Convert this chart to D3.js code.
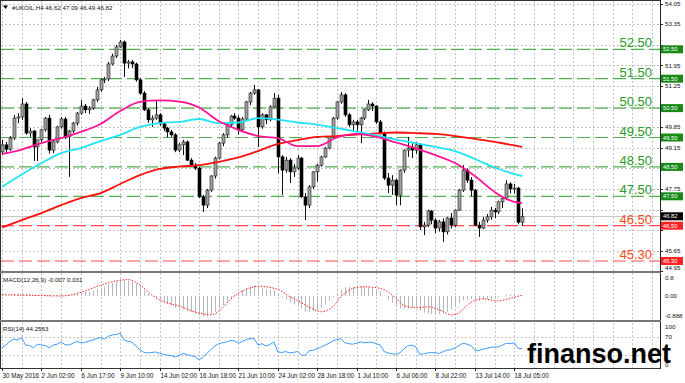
<!DOCTYPE html>
<html>
<head>
<meta charset="utf-8">
<script src="https://cdn.jsdelivr.net/npm/d3@7"></script>
<style>
  body { margin: 0; background: #fff; }
  svg { display: block; font-family: "Liberation Sans", Arial, sans-serif; }
</style>
</head>
<body>
<div id="viz"></div>
<script>
// ---- data (UKOIL H4, 30 May - 18 Jul 2016) ----
var opens = [49.01,49.25,49.10,49.48,50.16,50.20,50.64,49.65,49.72,49.18,
  49.42,49.76,50.16,49.07,49.35,49.86,50.13,49.52,49.72,49.99,
  50.33,50.57,50.44,50.50,50.78,51.12,51.46,51.49,52.00,52.27,
  52.58,52.75,52.03,52.07,52.00,51.46,51.01,50.44,50.10,50.16,
  50.27,49.96,49.82,49.69,49.59,49.07,49.25,49.35,48.73,48.56,
  48.46,47.48,47.20,47.71,48.19,48.80,49.31,49.59,49.93,50.23,
  50.16,49.76,50.13,50.71,51.01,51.12,49.86,50.27,50.10,50.54,
  50.84,48.84,48.39,48.73,48.33,48.46,48.80,47.48,47.20,47.82,
  48.33,48.56,48.84,49.14,49.52,50.16,50.71,50.95,50.27,49.93,
  50.03,49.93,50.16,50.44,50.64,50.57,50.03,49.65,48.12,47.88,
  48.05,47.54,48.39,49.07,49.14,49.07,49.25,46.46,46.52,47.00,
  46.69,46.42,46.63,46.29,46.76,46.52,47.03,47.71,48.39,48.05,
  47.71,46.52,46.42,46.69,46.80,47.03,46.97,47.31,47.44,47.92,
  47.75,47.78,46.62];
var highs = [49.42,49.35,49.55,50.27,50.33,50.84,50.71,49.82,49.76,49.42,
  49.80,50.20,50.27,49.42,49.90,50.20,50.20,49.76,50.03,50.37,
  50.78,50.64,50.57,50.82,51.22,51.50,51.56,52.07,52.35,52.65,
  52.82,52.80,52.14,52.14,52.05,51.52,51.08,50.50,50.25,50.78,
  50.33,50.03,49.86,49.76,49.65,49.31,49.42,49.40,48.80,48.63,
  48.50,47.55,47.75,48.22,48.85,49.35,49.65,50.00,50.27,50.33,
  50.25,50.20,50.75,51.05,51.29,51.15,50.33,50.30,50.60,51.01,
  50.95,48.90,48.84,48.80,48.60,48.90,48.84,47.61,47.88,48.36,
  48.60,48.88,49.18,49.55,50.20,50.75,51.05,51.01,50.33,50.10,
  50.10,50.20,50.47,50.78,50.70,50.60,50.10,49.70,48.29,48.22,
  48.10,48.42,49.10,49.52,49.30,49.35,49.30,46.63,47.05,47.03,
  46.75,46.70,46.75,46.80,46.93,47.05,47.75,48.56,48.45,48.15,
  47.75,46.63,46.80,46.90,47.14,47.10,47.35,47.50,48.05,47.98,
  47.92,47.82,47.09];
var lows = [48.90,48.97,49.05,49.42,49.99,50.10,49.59,49.52,48.70,48.70,
  49.35,49.70,48.95,48.97,49.30,49.80,49.45,48.16,49.65,49.90,
  50.27,50.33,50.30,50.44,50.70,51.05,51.35,51.42,51.95,52.20,
  52.55,51.56,51.85,51.86,51.40,50.95,50.40,50.00,49.86,50.10,
  49.90,49.72,49.50,49.52,49.00,49.00,48.90,48.70,48.50,48.39,
  47.44,46.97,47.10,47.65,48.10,48.75,49.20,49.50,49.85,50.10,
  49.60,49.70,50.08,50.60,50.95,49.18,49.80,49.96,50.05,50.50,
  48.29,47.54,48.30,47.95,48.16,48.40,47.44,46.69,47.10,47.75,
  48.00,48.50,48.80,49.10,49.48,50.10,50.65,50.20,49.86,49.72,
  49.70,49.31,50.10,50.40,50.40,49.96,49.60,48.05,47.61,47.55,
  47.20,47.20,48.30,48.84,48.80,48.95,46.35,46.18,46.45,46.55,
  46.25,46.30,45.95,46.20,46.40,46.45,47.00,47.65,47.95,47.50,
  46.50,46.12,46.38,46.60,46.70,46.76,46.90,47.10,47.40,47.60,
  47.60,46.55,46.49];
var closes = [49.25,49.10,49.48,50.16,50.20,50.64,49.65,49.72,49.18,49.42,
  49.76,50.16,49.07,49.35,49.86,50.13,49.52,49.72,49.99,50.33,
  50.57,50.44,50.50,50.78,51.12,51.46,51.49,52.00,52.27,52.58,
  52.75,52.03,52.07,52.00,51.46,51.01,50.44,50.10,50.16,50.27,
  49.96,49.82,49.69,49.59,49.07,49.25,49.35,48.73,48.56,48.46,
  47.48,47.20,47.71,48.19,48.80,49.31,49.59,49.93,50.23,50.16,
  49.76,50.13,50.71,51.01,51.12,49.86,50.27,50.10,50.54,50.84,
  48.84,48.39,48.73,48.33,48.46,48.80,47.48,47.20,47.82,48.33,
  48.56,48.84,49.14,49.52,50.16,50.71,50.95,50.27,49.93,50.03,
  49.93,50.16,50.44,50.64,50.57,50.03,49.65,48.12,47.88,48.05,
  47.54,48.39,49.07,49.14,49.07,49.25,46.46,46.52,47.00,46.69,
  46.42,46.63,46.29,46.76,46.52,47.03,47.71,48.39,48.05,47.71,
  46.52,46.42,46.69,46.80,47.03,46.97,47.31,47.44,47.92,47.75,
  47.78,46.62,46.82];

// moving averages, read at every 5th bar
var maIdx  = [0,5,10,15,20,25,30,35,40,45,50,55,60,65,70,75,80,85,90,95,100,105,110,115,120,125,130,132];
var maPink = [48.94,49.09,49.31,49.48,49.69,49.96,50.40,50.71,50.76,50.72,50.52,50.06,49.76,49.55,
  49.48,49.21,49.21,49.50,49.62,49.52,49.33,49.13,48.90,48.63,48.19,47.65,47.31,47.27];
var maCyan = [47.82,48.24,48.63,48.97,49.14,49.38,49.59,49.86,49.99,50.03,50.13,49.99,50.01,50.16,
  50.11,50.01,49.94,49.82,49.70,49.57,49.43,49.31,49.18,49.04,48.77,48.48,48.26,48.19];
var maRed  = [46.44,46.69,46.93,47.20,47.44,47.61,47.92,48.22,48.43,48.51,48.56,48.67,48.82,49.04,
  49.28,49.41,49.52,49.55,49.60,49.64,49.67,49.65,49.62,49.55,49.45,49.35,49.23,49.18];

var macdHist = [0.05,0.03,0.04,0.08,0.10,0.14,0.10,0.06,0.02,0.02,
  0.04,0.07,0.04,0.03,0.05,0.08,0.06,0.05,0.07,0.10,
  0.15,0.18,0.20,0.24,0.30,0.37,0.42,0.50,0.58,0.66,
  0.74,0.72,0.68,0.64,0.55,0.42,0.26,0.10,-0.02,-0.10,
  -0.20,-0.28,-0.36,-0.44,-0.52,-0.56,-0.60,-0.66,-0.72,-0.78,
  -0.86,-0.92,-0.90,-0.82,-0.70,-0.55,-0.40,-0.25,-0.10,0.05,
  0.12,0.25,0.35,0.42,0.47,0.42,0.36,0.30,0.28,0.27,
  0.10,-0.05,-0.15,-0.28,-0.38,-0.42,-0.55,-0.68,-0.72,-0.68,
  -0.62,-0.52,-0.38,-0.22,-0.05,0.12,0.28,0.38,0.40,0.42,
  0.44,0.42,0.40,0.38,0.35,0.28,0.20,0.02,-0.15,-0.30,
  -0.45,-0.55,-0.55,-0.55,-0.52,-0.50,-0.65,-0.75,-0.78,-0.80,
  -0.82,-0.82,-0.78,-0.70,-0.60,-0.48,-0.32,-0.20,-0.15,-0.15,
  -0.20,-0.22,-0.18,-0.15,-0.12,-0.10,-0.05,0.00,0.05,0.08,
  0.08,0.04,-0.007];
var sigIdx = [0,5,10,15,20,25,30,32,35,38,40,45,50,53,55,58,60,63,65,70,73,75,78,81,84,86,88,90,92,96,
  98,100,102,105,108,110,112,114,116,118,120,122,124,126,129,132];
var sigVal = [0.06,0.04,0.02,0.00,0.16,0.48,0.70,0.73,0.49,0.05,-0.17,-0.45,-0.76,-0.84,-0.68,-0.15,0.12,0.36,0.43,0.30,
  -0.03,-0.20,-0.50,-0.70,-0.47,-0.03,0.25,0.38,0.41,0.34,0.18,-0.10,-0.42,-0.52,-0.48,-0.55,-0.70,-0.84,-0.74,-0.42,
  -0.20,-0.12,-0.18,-0.22,-0.10,0.031];

var rsi = [47,52,60,65,63,68,52,51,46,54,
  52,51,46,52,54,59,53,52,56,60,
  57,58,60,63,66,68,65,71,74,75,
  78,63,60,58,50,42,36,35,36,37,
  34,32,30,29,26,30,34,31,29,27,
  20,25,34,42,50,55,57,59,62,61,
  56,60,64,66,66,52,55,50,53,59,
  37,36,38,35,36,38,30,30,40,41,
  44,48,52,56,61,64,66,57,55,54,
  56,59,57,58,58,55,52,38,35,33,
  32,35,44,50,52,48,32,33,35,36,
  35,34,38,41,42,46,51,56,54,51,
  41,40,43,45,47,48,48,52,56,55,
  57,45,44.26];

var priceTicks = [54.05,53.35,52.65,51.95,51.25,50.55,49.85,49.15,48.45,47.75,47.05,46.35,45.65,44.95];
var greenLevels = [52.50,51.50,50.50,49.50,48.50,47.50];
var redLevels = [46.50,45.30];
var lastPrice = 46.82;
var xLabelIdx = [0,10,20,30,40,50,60,70,80,90,100,110,120,130];
var xLabels = ["30 May 2016","2 Jun 02:00","6 Jun 17:00","9 Jun 10:00","14 Jun 02:00","16 Jun 18:00",
  "21 Jun 10:00","24 Jun 02:00","28 Jun 18:00","1 Jul 10:00","6 Jul 06:00","8 Jul 22:00",
  "13 Jul 14:00","18 Jul 05:00"];
var macdTicks = [0.8, 0, -0.888], macdTickText = ["0.8", "0.00", "-0.888"];
var rsiTicks = [100, 70, 0];
var rsiLevels = [70, 30];

// ---- layout ----
var W = 685, H = 383, axisX = 660;
var mainBottom = 271, macdTop = 273, macdBottom = 320, rsiTop = 323, rsiBottom = 368;

var svg = d3.select("#viz").append("svg")
  .attr("width", W).attr("height", H);

var x = d3.scaleLinear().domain([0, 132]).range([2, 522.1]);
var y = d3.scaleLinear().domain([52.5, 47.5]).range([49.3, 196.3]);
var yMacd = d3.scaleLinear().domain([0, 0.8]).range([296, 278]);
var yRsi = d3.scaleLinear().domain([0, 100]).range([369, 323]);

var px = i => Math.round(x(i)) + 0.5;

// grid
var grid = svg.append("g").attr("stroke", "#c4c4c4").attr("stroke-dasharray", "2,2").attr("shape-rendering", "crispEdges");
d3.range(0, 170, 5).filter(i => x(i) < axisX - 2).forEach(i => {
  [[1, mainBottom], [macdTop, macdBottom], [rsiTop, rsiBottom]].forEach(r => {
    grid.append("line").attr("x1", px(i)).attr("x2", px(i)).attr("y1", r[0]).attr("y2", r[1]);
  });
});
priceTicks.forEach(p => {
  grid.append("line").attr("x1", 1).attr("x2", axisX).attr("y1", Math.round(y(p)) + 0.5).attr("y2", Math.round(y(p)) + 0.5);
});
rsiLevels.forEach(v => {
  grid.append("line").attr("x1", 1).attr("x2", axisX).attr("y1", Math.round(yRsi(v)) + 0.5).attr("y2", Math.round(yRsi(v)) + 0.5);
});

// current price line
svg.append("line").attr("x1", 1).attr("x2", axisX)
  .attr("y1", Math.round(y(lastPrice)) + 0.5).attr("y2", Math.round(y(lastPrice)) + 0.5)
  .attr("stroke", "#c8c8c8").attr("stroke-width", 1.2);

// horizontal levels
greenLevels.forEach(p => {
  svg.append("line").attr("x1", 1).attr("x2", axisX).attr("y1", y(p)).attr("y2", y(p))
    .attr("stroke", "#55b055").attr("stroke-width", 1.2).attr("stroke-dasharray", "13,5");
});
redLevels.forEach(p => {
  svg.append("line").attr("x1", 1).attr("x2", axisX).attr("y1", y(p)).attr("y2", y(p))
    .attr("stroke", "#ff4a4a").attr("stroke-width", 1.2).attr("stroke-dasharray", "13,5");
});

// candles
var candles = svg.append("g");
closes.forEach((c, i) => {
  var o = opens[i], bull = c >= o;
  candles.append("line").attr("x1", px(i)).attr("x2", px(i))
    .attr("y1", y(highs[i])).attr("y2", y(lows[i]))
    .attr("stroke", "#111").attr("stroke-width", 1);
  var top = y(Math.max(o, c)), bot = y(Math.min(o, c));
  candles.append("rect")
    .attr("x", Math.round(x(i)) - 1).attr("width", 3)
    .attr("y", top).attr("height", Math.max(1, bot - top))
    .attr("fill", bull ? "#a0a0a0" : "#000")
    .attr("stroke", bull ? "#222" : "#000").attr("stroke-width", 0.6);
});

// moving averages
var maLine = d3.line().x(d => x(d[0])).y(d => y(d[1])).curve(d3.curveMonotoneX);
[[maRed, "#ff1010"], [maCyan, "#22e4f4"], [maPink, "#ff1493"]].forEach(m => {
  svg.append("path").datum(d3.zip(maIdx, m[0])).attr("d", maLine)
    .attr("fill", "none").attr("stroke", m[1]).attr("stroke-width", 1.8);
});

// level labels on chart
greenLevels.forEach(p => {
  svg.append("text").attr("x", 652).attr("y", y(p) - 2).attr("text-anchor", "end")
    .attr("font-size", 13).attr("fill", "#2a9a2a").text(p.toFixed(2));
});
redLevels.forEach(p => {
  svg.append("text").attr("x", 652).attr("y", y(p) - 2).attr("text-anchor", "end")
    .attr("font-size", 13).attr("fill", "#ff4a1a").text(p.toFixed(2));
});

// MACD pane
svg.append("g").selectAll("line").data(macdHist).join("line")
  .attr("x1", (d, i) => px(i)).attr("x2", (d, i) => px(i))
  .attr("y1", yMacd(0)).attr("y2", d => yMacd(d))
  .attr("stroke", "#b8b8b8").attr("stroke-width", 1);
svg.append("path").datum(d3.zip(sigIdx, sigVal))
  .attr("d", d3.line().x(d => x(d[0])).y(d => yMacd(d[1])).curve(d3.curveMonotoneX))
  .attr("fill", "none").attr("stroke", "#ff2020").attr("stroke-width", 1).attr("stroke-dasharray", "1.5,1.5");

// RSI pane
svg.append("path").datum(rsi)
  .attr("d", d3.line().x((d, i) => x(i)).y(d => yRsi(d)))
  .attr("fill", "none").attr("stroke", "#3a9cff").attr("stroke-width", 1);

// frame and pane separators
var frame = svg.append("g").attr("shape-rendering", "crispEdges");
frame.append("line").attr("x1", 0.5).attr("x2", 0.5).attr("y1", 0).attr("y2", rsiBottom).attr("stroke", "#333");
frame.append("line").attr("x1", 0).attr("x2", axisX).attr("y1", 0.5).attr("y2", 0.5).attr("stroke", "#333");
frame.append("line").attr("x1", axisX + 0.5).attr("x2", axisX + 0.5).attr("y1", 0).attr("y2", rsiBottom).attr("stroke", "#222");
frame.append("rect").attr("x", 0).attr("y", mainBottom).attr("width", axisX + 1).attr("height", 2).attr("fill", "#777");
frame.append("rect").attr("x", 0).attr("y", macdBottom).attr("width", axisX + 1).attr("height", 2).attr("fill", "#777");
frame.append("line").attr("x1", 0).attr("x2", axisX + 1).attr("y1", rsiBottom + 0.5).attr("y2", rsiBottom + 0.5).attr("stroke", "#333");

// price axis (labels hidden under a level box are left out, as on the reference)
var boxed = greenLevels.concat(redLevels, [lastPrice]);
var ax = svg.append("g").attr("font-size", 6.2).attr("fill", "#111");
priceTicks.forEach(p => {
  var yy = Math.min(268, Math.max(4, y(p)));
  ax.append("line").attr("x1", axisX).attr("x2", axisX + 3).attr("y1", Math.round(y(p)) + 0.5).attr("y2", Math.round(y(p)) + 0.5)
    .attr("stroke", "#222").attr("shape-rendering", "crispEdges");
  if (boxed.some(b => Math.abs(y(b) - y(p)) < 7)) return;
  ax.append("text").attr("x", axisX + 5).attr("y", yy).attr("dy", "0.35em").text(p.toFixed(2));
});
function priceBox(p, color) {
  svg.append("rect").attr("x", axisX + 1).attr("y", y(p) - 4).attr("width", 22).attr("height", 8).attr("fill", color);
  svg.append("text").attr("x", axisX + 3).attr("y", y(p)).attr("dy", "0.35em")
    .attr("font-size", 5.8).attr("fill", "#fff").text(p.toFixed(2));
}
greenLevels.forEach(p => priceBox(p, "#188a18"));
redLevels.forEach(p => priceBox(p, "#ff2222"));
priceBox(lastPrice, "#000");

macdTicks.forEach((v, k) => {
  ax.append("text").attr("x", axisX + 5).attr("y", Math.max(278, Math.min(316.5, yMacd(v)))).attr("dy", "0.35em").text(macdTickText[k]);
});
rsiTicks.forEach(v => {
  ax.append("text").attr("x", axisX + 5).attr("y", Math.max(327, Math.min(365, yRsi(v)))).attr("dy", "0.35em").text(v);
});

// time axis
var tx = svg.append("g").attr("font-size", 6.3).attr("fill", "#111");
xLabelIdx.forEach((i, k) => {
  tx.append("line").attr("x1", px(i)).attr("x2", px(i)).attr("y1", rsiBottom).attr("y2", rsiBottom + 3)
    .attr("stroke", "#222").attr("shape-rendering", "crispEdges");
  tx.append("text").attr("x", px(i)).attr("y", 377.5).text(xLabels[k]);
});

// titles
svg.append("path").attr("d", "M3,5.5 L8,5.5 L5.5,9 Z").attr("fill", "#000");
svg.append("text").attr("x", 12).attr("y", 9.5).attr("font-size", 6.2).attr("fill", "#111")
  .text("#UKOIL,H4  46.62 47.09 46.49 46.82");
svg.append("text").attr("x", 3).attr("y", 282).attr("font-size", 6.2).attr("fill", "#111")
  .text("MACD(12,26,9) -0.007 0.031");
svg.append("text").attr("x", 3).attr("y", 330.5).attr("font-size", 6.2).attr("fill", "#111")
  .text("RSI(14) 44.2563");

// watermark
svg.append("text").attr("x", 527).attr("y", 363).attr("font-size", 27).attr("font-weight", "bold")
  .attr("fill", "#000").text("finanso.net");
</script>
</body>
</html>
